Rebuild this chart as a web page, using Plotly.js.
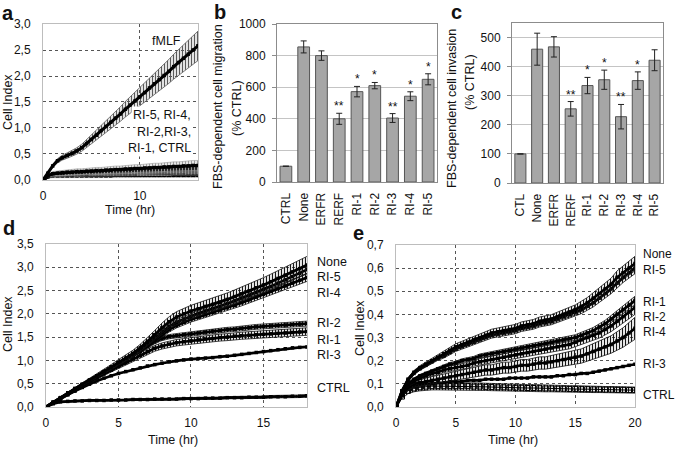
<!DOCTYPE html>
<html>
<head>
<meta charset="utf-8">
<script src="https://cdn.plot.ly/plotly-3.0.1.min.js"></script>
<style>html,body{margin:0;padding:0;background:#fff;}#chart{width:675px;height:452px;}</style>
</head>
<body>
<div id="chart"></div>
<script>
// ---------- Panel a (Cell Index vs time, fMLF and inhibitors) ----------
const tA = [0,0.5,1,1.5,2,2.5,3,3.5,4,4.5,5,5.5,6,6.5,7,7.5,8,8.5,9,9.5,10,10.5,11,11.5,12,12.5,13,13.5,14,14.5,15,15.5,16];
const fMLF = [0,0.13,0.27,0.37,0.43,0.47,0.51,0.56,0.62,0.70,0.78,0.86,0.95,1.03,1.11,1.19,1.27,1.36,1.44,1.52,1.60,1.68,1.77,1.85,1.93,2.01,2.09,2.18,2.26,2.34,2.42,2.50,2.58];
const RI5a = [0,0.08,0.12,0.13,0.14,0.15,0.15,0.16,0.16,0.17,0.17,0.18,0.18,0.19,0.19,0.20,0.20,0.21,0.21,0.22,0.22,0.23,0.23,0.24,0.24,0.25,0.25,0.26,0.26,0.27,0.27,0.28,0.28];
const RI4a = [0,0.08,0.12,0.13,0.13,0.14,0.14,0.15,0.15,0.15,0.16,0.16,0.16,0.17,0.17,0.17,0.18,0.18,0.18,0.19,0.19,0.19,0.20,0.20,0.20,0.21,0.21,0.21,0.22,0.22,0.22,0.23,0.23];
const RI2a = [0,0.08,0.11,0.12,0.12,0.13,0.13,0.13,0.14,0.14,0.14,0.15,0.15,0.15,0.15,0.16,0.16,0.16,0.17,0.17,0.17,0.17,0.18,0.18,0.18,0.18,0.19,0.19,0.19,0.19,0.20,0.20,0.20];
const RI3a = [0,0.07,0.10,0.11,0.11,0.11,0.12,0.12,0.12,0.12,0.13,0.13,0.13,0.13,0.13,0.14,0.14,0.14,0.14,0.14,0.15,0.15,0.15,0.15,0.15,0.16,0.16,0.16,0.16,0.16,0.17,0.17,0.17];
const RI1a = [0,0.07,0.09,0.10,0.10,0.10,0.10,0.11,0.11,0.11,0.11,0.11,0.11,0.12,0.12,0.12,0.12,0.12,0.12,0.12,0.13,0.13,0.13,0.13,0.13,0.13,0.13,0.14,0.14,0.14,0.14,0.14,0.14];
const CTRLa = [0,0.06,0.08,0.08,0.08,0.08,0.08,0.08,0.08,0.08,0.08,0.08,0.08,0.08,0.08,0.09,0.09,0.09,0.09,0.09,0.09,0.09,0.09,0.09,0.09,0.09,0.09,0.09,0.09,0.09,0.09,0.09,0.09];
const errPctA = {fMLF:11, RI5:34, RI4:30, RI2:30, RI3:30, RI1:32, CTRL:45};

// ---------- Panel b (migration, % CTRL) ----------
const catsB = ['CTRL','None','ERFR','RERF','RI-1','RI-2','RI-3','RI-4','RI-5'];
const valsB = [100,855,800,400,572,610,405,543,650];
const errB  = [0,38,30,35,33,20,28,28,35];
const starsB = ['','','','**','*','*','**','*','*'];

// ---------- Panel c (invasion, % CTRL) ----------
const catsC = ['CTL','None','ERFR','RERF','RI-1','RI-2','RI-3','RI-4','RI-5'];
const valsC = [100,460,468,255,335,355,228,352,422];
const errC  = [0,55,35,25,28,33,42,30,36];
const starsC = ['','','','**','*','*','**','*',''];

// ---------- Panel d ----------
const tD = [0,0.5,1,1.5,2,2.5,3,3.5,4,4.5,5,5.5,6,6.5,7,7.5,8,8.5,9,9.5,10,10.5,11,11.5,12,12.5,13,13.5,14,14.5,15,15.5,16,16.5,17,17.5,18];
const NoneD = [0,0.10,0.20,0.30,0.40,0.49,0.58,0.67,0.76,0.86,0.96,1.05,1.15,1.27,1.40,1.55,1.70,1.83,1.93,2.00,2.06,2.11,2.16,2.20,2.25,2.31,2.37,2.43,2.49,2.56,2.62,2.69,2.76,2.83,2.90,2.97,3.05];
const RI5D = [0,0.10,0.20,0.30,0.39,0.48,0.57,0.66,0.75,0.85,0.94,1.03,1.12,1.23,1.35,1.48,1.61,1.73,1.82,1.89,1.95,2.01,2.06,2.11,2.16,2.22,2.28,2.34,2.40,2.46,2.53,2.59,2.66,2.73,2.80,2.87,2.95];
const RI4D = [0,0.10,0.19,0.29,0.38,0.47,0.56,0.65,0.74,0.83,0.92,1.01,1.10,1.20,1.31,1.43,1.55,1.66,1.75,1.82,1.88,1.93,1.98,2.03,2.08,2.13,2.18,2.24,2.30,2.36,2.42,2.48,2.54,2.60,2.66,2.72,2.78];
const RI2D = [0,0.10,0.19,0.29,0.38,0.47,0.56,0.65,0.74,0.83,0.92,1.01,1.10,1.20,1.30,1.40,1.47,1.51,1.53,1.55,1.57,1.59,1.61,1.63,1.64,1.66,1.67,1.69,1.70,1.72,1.73,1.74,1.75,1.76,1.77,1.78,1.79];
const RI1D = [0,0.09,0.18,0.27,0.36,0.45,0.54,0.63,0.71,0.79,0.87,0.95,1.03,1.11,1.19,1.26,1.31,1.35,1.38,1.40,1.42,1.44,1.46,1.47,1.49,1.50,1.52,1.53,1.54,1.55,1.56,1.57,1.58,1.59,1.60,1.61,1.62];
const RI3D = [0,0.09,0.18,0.26,0.34,0.42,0.49,0.56,0.62,0.67,0.72,0.76,0.80,0.84,0.88,0.91,0.94,0.97,0.99,1.01,1.03,1.04,1.05,1.06,1.08,1.09,1.11,1.13,1.15,1.17,1.19,1.21,1.23,1.25,1.27,1.28,1.29];
const CTRLD = [0,0.07,0.11,0.12,0.13,0.13,0.14,0.14,0.14,0.15,0.15,0.15,0.16,0.16,0.16,0.17,0.17,0.17,0.17,0.18,0.18,0.18,0.19,0.19,0.19,0.20,0.20,0.20,0.21,0.21,0.21,0.22,0.22,0.22,0.23,0.23,0.24];
const errPctD = {None:6, RI5:3, RI4:3, RI2:3, RI1:5, RI3:1, CTRL:12};

// ---------- Panel e ----------
const tE = [0,0.5,1,1.5,2,2.5,3,3.5,4,4.5,5,5.5,6,6.5,7,7.5,8,8.5,9,9.5,10,10.5,11,11.5,12,12.5,13,13.5,14,14.5,15,15.5,16,16.5,17,17.5,18,18.5,19,19.5,20];
const NoneE = [0,0.07,0.12,0.15,0.17,0.185,0.20,0.215,0.23,0.245,0.26,0.27,0.28,0.29,0.30,0.31,0.32,0.325,0.33,0.335,0.34,0.35,0.355,0.36,0.37,0.375,0.38,0.39,0.40,0.41,0.42,0.435,0.45,0.47,0.49,0.51,0.53,0.56,0.58,0.60,0.62];
const RI5E = [0,0.07,0.115,0.145,0.165,0.18,0.195,0.21,0.22,0.235,0.25,0.26,0.27,0.28,0.29,0.30,0.31,0.315,0.32,0.325,0.33,0.34,0.345,0.35,0.36,0.365,0.37,0.38,0.39,0.40,0.41,0.42,0.435,0.45,0.47,0.49,0.51,0.535,0.56,0.58,0.60];
const RI1E = [0,0.065,0.10,0.12,0.135,0.145,0.155,0.165,0.175,0.185,0.19,0.20,0.205,0.21,0.22,0.225,0.23,0.235,0.24,0.245,0.25,0.255,0.26,0.265,0.27,0.275,0.28,0.285,0.29,0.295,0.30,0.31,0.32,0.33,0.345,0.36,0.38,0.40,0.42,0.44,0.46];
const RI2E = [0,0.06,0.095,0.11,0.125,0.135,0.145,0.15,0.16,0.165,0.17,0.175,0.18,0.19,0.195,0.20,0.205,0.21,0.215,0.22,0.225,0.23,0.235,0.24,0.245,0.25,0.255,0.26,0.265,0.27,0.28,0.29,0.30,0.31,0.32,0.335,0.35,0.37,0.39,0.41,0.43];
const RI4E = [0,0.055,0.085,0.10,0.105,0.11,0.115,0.12,0.125,0.13,0.135,0.14,0.145,0.15,0.155,0.16,0.16,0.165,0.17,0.17,0.175,0.18,0.18,0.185,0.19,0.19,0.195,0.20,0.205,0.21,0.215,0.22,0.23,0.24,0.25,0.26,0.27,0.285,0.30,0.32,0.34];
const RI3E = [0,0.05,0.08,0.09,0.095,0.10,0.10,0.105,0.105,0.11,0.11,0.11,0.115,0.115,0.115,0.12,0.12,0.12,0.12,0.125,0.125,0.125,0.125,0.13,0.13,0.13,0.13,0.135,0.135,0.14,0.14,0.145,0.145,0.15,0.155,0.16,0.165,0.17,0.175,0.18,0.185];
const CTRLE = [0,0.045,0.07,0.08,0.085,0.088,0.09,0.09,0.09,0.09,0.09,0.09,0.09,0.088,0.088,0.087,0.086,0.085,0.085,0.084,0.083,0.083,0.082,0.082,0.081,0.080,0.080,0.079,0.079,0.078,0.078,0.077,0.077,0.076,0.076,0.075,0.075,0.074,0.074,0.073,0.073];
const errPctE = {None:5, RI5:4, RI1:4, RI2:7, RI4:14, RI3:1, CTRL:18};

// ---------- labels ----------
const labelsD = ['None','RI-5','RI-4','RI-2','RI-1','RI-3','CTRL'];
const labelsE = ['None','RI-5','RI-1','RI-2','RI-4','RI-3','CTRL'];

const FONT = 'Liberation Sans, Arial, sans-serif';
const traces = [];

// one replicate-mean curve with a hatched error band (mean ± pct%)
function series(x, y, pct, xa, ya, o) {
  o = o || {};
  if (pct > 1.5) {
    const lo = y.map(function(v){ return v * (1 - pct / 100); });
    const hi = y.map(function(v){ return v * (1 + pct / 100); });
    traces.push({type:'scatter', mode:'lines', x:x, y:lo, xaxis:xa, yaxis:ya,
      line:{color:o.ec || '#000', width:o.edge || 0.7}, hoverinfo:'skip'});
    traces.push({type:'scatter', mode:'lines', x:x, y:hi, xaxis:xa, yaxis:ya, fill:'tonexty',
      fillcolor:'rgba(0,0,0,0)',
      fillpattern:{shape:'|', size:o.ps || 3, solidity:o.sol || 0.4, fgcolor:o.ec || '#000', bgcolor:'rgba(255,255,255,0)', fgopacity:1},
      line:{color:o.ec || '#000', width:o.edge || 0.7}, hoverinfo:'skip'});
  }
  traces.push({type:'scatter', mode:'lines+markers', x:x, y:y, xaxis:xa, yaxis:ya,
    line:{color:'#000', width:o.lw || 2.2},
    marker:{symbol:o.sym || 'square', size:o.ms || 3, color:o.mc || '#000', line:{color:'#000', width:o.mlw || 0}},
    hoverinfo:'skip'});
}

// panel a
[[CTRLa,errPctA.CTRL],[RI1a,errPctA.RI1],[RI3a,errPctA.RI3],[RI2a,errPctA.RI2],[RI4a,errPctA.RI4],[RI5a,errPctA.RI5]].forEach(function(s){
  series(tA, s[0], s[1], 'x', 'y', {ec:'#9a9a9a', edge:0.6, sol:0.5, lw:3, ms:3.5});
});
series(tA, fMLF, errPctA.fMLF, 'x', 'y', {ec:'#5a5a5a', edge:0.8, sol:0.45, lw:3, ms:3.5});

// panel b
traces.push({type:'bar', x: catsB, y: valsB, xaxis:'x2', yaxis:'y2',
  marker:{color:'#a6a6a6', line:{color:'#555', width:1}},
  error_y:{type:'data', array: errB, visible:true, color:'#222', thickness:1, width:3}, hoverinfo:'skip'});
// panel c
traces.push({type:'bar', x: catsC, y: valsC, xaxis:'x3', yaxis:'y3',
  marker:{color:'#a6a6a6', line:{color:'#555', width:1}},
  error_y:{type:'data', array: errC, visible:true, color:'#222', thickness:1, width:3}, hoverinfo:'skip'});

// panel d
[[CTRLD,errPctD.CTRL],[RI3D,errPctD.RI3],[RI1D,errPctD.RI1],[RI2D,errPctD.RI2],[RI4D,errPctD.RI4],[RI5D,errPctD.RI5],[NoneD,errPctD.None]].forEach(function(s){
  series(tD, s[0], s[1], 'x4', 'y4', {ec:'#111', edge:0.8, sol:0.4, lw:2.7, ms:3.5});
});

// panel e
series(tE, CTRLE, errPctE.CTRL, 'x5', 'y5', {sym:'square-open', mc:'#000', mlw:1, ms:5, lw:1, ec:'#111', edge:0.8, sol:0.4});
[[RI3E,errPctE.RI3],[RI4E,errPctE.RI4],[RI2E,errPctE.RI2],[RI1E,errPctE.RI1],[RI5E,errPctE.RI5],[NoneE,errPctE.None]].forEach(function(s){
  series(tE, s[0], s[1], 'x5', 'y5', {ec:'#111', edge:0.8, sol:0.4, lw:2.6, ms:3.5});
});

const tickF = {family: FONT, size: 12, color: '#111'};
function lineAxisX(dom, rng, dt, anchor) {
  return {domain: dom, range: rng, dtick: dt, anchor: anchor, showgrid: true, gridcolor: '#555', griddash: 'dot', gridwidth: 1,
    showline: true, mirror: true, linecolor: '#bdbdbd', linewidth: 1, zeroline: false, ticks: '', tickfont: tickF, ticklabelstandoff: 5};
}
function lineAxisY(dom, rng, dt, anchor) {
  return {domain: dom, range: rng, dtick: dt, anchor: anchor, tickformat: '.1f', showgrid: true, gridcolor: '#555', griddash: 'dot', gridwidth: 1,
    showline: true, mirror: true, linecolor: '#bdbdbd', linewidth: 1, zeroline: false, ticks: '', tickfont: tickF, ticklabelstandoff: 9};
}
function barAxisX(dom, anchor) {
  return {domain: dom, anchor: anchor, type: 'category', tickangle: -90, showgrid: false, showline: true, mirror: true,
    linecolor: '#8c8c8c', linewidth: 1, ticks: '', tickfont: tickF, ticklabelstandoff: 5};
}
function barAxisY(dom, rng, dt, anchor) {
  return {domain: dom, range: rng, dtick: dt, anchor: anchor, tickformat: 'd', showgrid: true, gridcolor: '#c4c4c4', gridwidth: 1,
    showline: true, mirror: true, linecolor: '#8c8c8c', linewidth: 1, zeroline: false, ticks: 'outside', ticklen: 4, tickcolor: '#8c8c8c',
    tickfont: tickF, ticklabelstandoff: 4};
}

const ann = [];
function txt(x, y, t, o) {
  o = o || {};
  ann.push(Object.assign({xref:'paper', yref:'paper', x: x/675, y: 1 - y/452, text: t, showarrow: false,
    xanchor: o.xa || 'center', yanchor: 'middle', textangle: o.ang || 0,
    font: {family: FONT, size: o.size || 12.5, color: '#111'}}, o.extra || {}));
}
// panel letters
txt(8, 13, '<b>a</b>', {size: 20});
txt(220, 12, '<b>b</b>', {size: 20});
txt(457, 12, '<b>c</b>', {size: 20});
txt(9, 228, '<b>d</b>', {size: 20});
txt(358, 233, '<b>e</b>', {size: 20});
// axis titles
txt(8, 102, 'Cell Index', {ang: -90});
txt(130, 210, 'Time (hr)');
txt(218, 107, 'FBS-dependent cell migration', {ang: -90});
txt(237, 108, '(% CTRL)', {ang: -90});
txt(452, 108, 'FBS-dependent cell invasion', {ang: -90});
txt(470, 82, '(% CTRL)', {ang: -90});
txt(8, 324, 'Cell Index', {ang: -90});
txt(173, 440, 'Time (hr)');
txt(360, 328, 'Cell Index', {ang: -90});
txt(513, 440, 'Time (hr)');
// panel a labels
txt(183, 41, 'fMLF', {xa: 'right'});
txt(193, 115, 'RI-5, RI-4,', {xa: 'right', extra: {bgcolor: '#fff'}});
txt(193, 132, 'RI-2,RI-3,', {xa: 'right', extra: {bgcolor: '#fff'}});
txt(193, 148, 'RI-1, CTRL', {xa: 'right', extra: {bgcolor: '#fff'}});
// panel d / e curve labels
const posD = [262, 277, 293, 323, 340, 355, 388];
labelsD.forEach(function(l, i){ txt(315, posD[i], l, {xa: 'left'}); });
const posE = [254, 270, 302, 317, 332, 364, 395];
labelsE.forEach(function(l, i){ txt(641, posE[i], l, {xa: 'left', size: 12}); });

// significance stars
catsB.forEach(function(c, i){
  if (starsB[i]) ann.push({xref:'x2', yref:'y2', x: c, y: valsB[i] + errB[i], text: starsB[i], showarrow:false,
    yanchor:'bottom', yshift: -2, font:{family: FONT, size: 12, color:'#111'}});
});
catsC.forEach(function(c, i){
  if (starsC[i]) ann.push({xref:'x3', yref:'y3', x: c, y: valsC[i] + errC[i], text: starsC[i], showarrow:false,
    yanchor:'bottom', yshift: -2, font:{family: FONT, size: 12, color:'#111'}});
});

const layout = {
  width: 675, height: 452, margin: {l:0, r:0, t:0, b:0}, paper_bgcolor: '#fff', plot_bgcolor: '#fff',
  showlegend: false, separators: ',.', font: {family: FONT, size: 12, color: '#111'}, bargap: 0.34,
  xaxis: lineAxisX([0.0637, 0.2933], [0, 16], 10, 'y'),
  yaxis: lineAxisY([0.6018, 0.9469], [0, 3], 0.5, 'x'),
  xaxis2: barAxisX([0.4104, 0.6474], 'y2'),
  yaxis2: barAxisY([0.5973, 0.9469], [0, 1000], 200, 'x2'),
  xaxis3: barAxisX([0.7585, 0.9822], 'y3'),
  yaxis3: Object.assign(barAxisY([0.5951, 0.9491], [0, 550], 100, 'x3'), {tickvals: [0,100,200,300,400,500]}),
  xaxis4: lineAxisX([0.0681, 0.4548], [0, 18], 5, 'y4'),
  yaxis4: lineAxisY([0.0996, 0.4602], [0, 3.5], 0.5, 'x4'),
  xaxis5: lineAxisX([0.5867, 0.9407], [0, 20], 5, 'y5'),
  yaxis5: lineAxisY([0.0996, 0.4580], [0, 0.7], 0.1, 'x5'),
  annotations: ann
};

Plotly.newPlot('chart', traces, layout, {staticPlot: true, displayModeBar: false});
</script>
</body>
</html>
